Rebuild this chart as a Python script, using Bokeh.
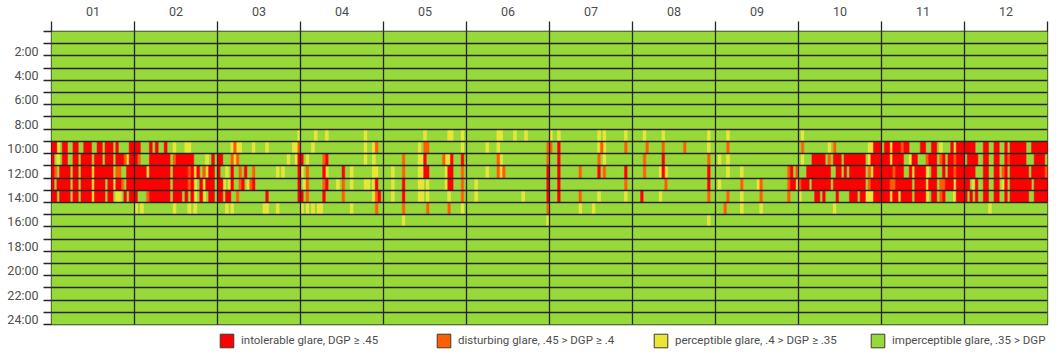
import re
from bokeh.plotting import figure
from bokeh.layouts import column
from bokeh.models import (ColumnDataSource, Range1d, FixedTicker, CustomJSTickFormatter,
                          Legend, LegendItem)
from bokeh.embed import file_html
from bokeh.resources import INLINE

# ---------------- data ----------------
months = ["01", "02", "03", "04", "05", "06", "07", "08", "09", "10", "11", "12"]
month_days = [31, 28, 31, 30, 31, 30, 31, 31, 30, 31, 30, 31]
hour_label_values = [2, 4, 6, 8, 10, 12, 14, 16, 18, 20, 22, 24]
hour_labels = ["2:00", "4:00", "6:00", "8:00", "10:00", "12:00", "14:00",
               "16:00", "18:00", "20:00", "22:00", "24:00"]

categories = ["intolerable glare, DGP \u2265 .45",
              "disturbing glare, .45 > DGP \u2265 .4",
              "perceptible glare, .4 > DGP \u2265 .35",
              "imperceptible glare, .35 > DGP"]
category_codes = ["r", "o", "y", "."]
category_colors = ["#ff0000", "#ff5f00", "#e9e634", "#98d93a"]

# glare class per day, one string per month (digits = that many imperceptible days)
glare_08 = ["", "", "30y", "5y3y13y", "15y8yy3y", "11yy4y3y",
            "y2y14y1y7y", "4y6y16y", "4y", "1y", "", ""]
glare_09 = ["rry1rr2rr2rrr2rr1rrr1r4rr", "rr3r1r2r2y3yy", "5yoyy4y4y9yyo", "4y18y2yo",
            "13y1oo12y", "7y3y17o", "o2r14yoy7o", "5o5o7o8y", "4o",
            "1o9y1o12yyrrr", "1rryrrrorr4rr2rr1y3ryrrr", "rrrr3rr2rr2r1rrrrrr2rrrrrr"]
glare_10 = ["r1y1rr2rr1rrrr1rrr1rrr1rrroyrr", "ro3rrrrrrr1orrrrrr4y1r", "rr3oyo18y2yr",
            "r1y5or13y2y", "7o5yyr6oyyr3r", "11oy16o", "3r14o1y", "4o6r16o", "1y2y",
            "1y3rrrrr1o1rrr1rrrrrrrr1yrrrr", "rrryrrrr2yrr3orrr1or1rrorrr",
            "1rrrr2rr2rr2rorrrrrr3rrrr"]
glare_11 = ["ro1rrrr1rr1rrrryrrrrrrr1oo2rrr", "rrrryrrrrrrr1rrrrroryr1oyrr",
            "r2y1r2o1r2o8y1y5r", "y1o5ry5r2y7yy", "3y3o5yyrr6yrr3o", "7y3oyo15r",
            "3r7o6r1o7r", "4o5yry15r", "4y4y16or1o", "3rrrrrrrrr2rr1r1rrrrrr1oyrrr",
            "rrrrorrr2ryrrrry1rr2r1rrorrr", "rrrr3rr2rr1or1rrrrrrr1rrrrro"]
glare_12 = ["r1rrrrr1rr1rrrryrrrr1rryrro1rrr", "rrrrrrrrrrrr1rrrrrory1ryrrr",
            "rry1yr2or1yor16r", "1yo5or3y1o2y4yy1yr", "3y3r5yy1y6yrr3o", "3y25r",
            "3r24o", "12o15r", "1y7o5yo9orry", "orrr1rrrrrrr1rrrrrrrrrrrr1orrrr",
            "rrroorrrrrr1rrrryrrr1oorrryrrr", "rr1yr2rr2rr1yr1rrrrrrrr1rrrrr"]
glare_13 = ["rr1rrrr1rr1rrrryrrrr1rr1yy1r1rr", "r3orrrrrrr1rrr1r1ry1ry1rr",
            "rr1rr2o10r11r", "r1o5r6o10yor", "3y3r5yy1y7y4o", "3y16y8r", "3r7o6y9y",
            "3r6y17o", "4o4y6o9o", "y5rr1r4r4rrr1rryyyrrr", "rrryrryrrrr1rrrry1rr1or3yrrr",
            "r1r1r2rr2rr2r1rrrrrrr2rrrrr"]
glare_14 = ["", "y1y10y4y1y", "3y1y11yy3y", "y1y1y1yy10y8o", "7o8o7o4y", "29o",
            "11y4y", "", "3o5y6y", "13y", "", "9y"]
glare_15 = ["", "", "", "", "7y", "29y", "", "28y", "", "", "", ""]

glare_by_hour = {8: glare_08, 9: glare_09, 10: glare_10, 11: glare_11,
                 12: glare_12, 13: glare_13, 14: glare_14, 15: glare_15}


def expand(code, n):
    out = ""
    for num, ch in re.findall(r"(\d+)|([a-z.])", code):
        out += "." * int(num) if num else ch
    return out.ljust(n, ".")[:n]


# build runs of equal class per hour row (each month spans one x unit)
runs = {c: dict(left=[], right=[], top=[], bottom=[]) for c in category_codes}
for h in range(24):
    chunks = glare_by_hour.get(h, [""] * 12)
    cells = []
    for m, (chunk, n) in enumerate(zip(chunks, month_days)):
        s = expand(chunk, n)
        for k, ch in enumerate(s):
            cells.append((m + k / n, m + (k + 1) / n, ch))
    start, code, end = cells[0][0], cells[0][2], cells[0][1]
    for x0, x1, ch in cells[1:]:
        if ch != code:
            d = runs[code]
            d["left"].append(start); d["right"].append(end)
            d["top"].append(h); d["bottom"].append(h + 1)
            start, code = x0, ch
        end = x1
    d = runs[code]
    d["left"].append(start); d["right"].append(end)
    d["top"].append(h); d["bottom"].append(h + 1)

# ---------------- main figure ----------------
p = figure(width=1059, height=330, x_range=Range1d(0, 12), y_range=Range1d(24, 0),
           x_axis_location="above", output_backend="svg", toolbar_location=None,
           min_border_left=51, min_border_right=12, min_border_top=31, min_border_bottom=6)
p.background_fill_color = "white"
p.border_fill_color = "white"
p.outline_line_color = "#262626"
p.outline_line_width = 1.3

for code, color in reversed(list(zip(category_codes, category_colors))):
    p.quad(source=ColumnDataSource(runs[code]), left="left", right="right", top="top",
           bottom="bottom", fill_color=color, line_color=color, line_width=0.5)

# grid lines above the cells
p.xgrid.ticker = FixedTicker(ticks=list(range(1, 12)))
p.ygrid.ticker = FixedTicker(ticks=list(range(1, 24)))
for g in (p.xgrid[0], p.ygrid[0]):
    g.grid_line_color = "#262626"
    g.grid_line_width = 1.3
    g.level = "overlay"

text_color = "#4d4d4d"
xa = p.xaxis[0]
xa.ticker = FixedTicker(ticks=[m + 0.5 for m in range(12)], minor_ticks=list(range(13)))
xa.formatter = CustomJSTickFormatter(args=dict(labels=months), code="return labels[index]")
xa.axis_line_color = None
xa.major_tick_line_color = None
xa.major_tick_out = 10
xa.major_tick_in = 0
xa.minor_tick_out = 10
xa.minor_tick_in = 0
xa.minor_tick_line_color = "#262626"
xa.minor_tick_line_width = 1.3
xa.major_label_standoff = 6
xa.major_label_text_font = "Roboto"
xa.major_label_text_font_size = "12.5px"
xa.major_label_text_color = text_color

ya = p.yaxis[0]
ya.ticker = FixedTicker(ticks=[h - 0.4 for h in hour_label_values], minor_ticks=list(range(25)))
ya.formatter = CustomJSTickFormatter(args=dict(labels=hour_labels), code="return labels[index]")
ya.axis_line_color = None
ya.major_tick_line_color = None
ya.major_tick_out = 8
ya.major_tick_in = 0
ya.minor_tick_out = 8
ya.minor_tick_in = 0
ya.minor_tick_line_color = "#262626"
ya.minor_tick_line_width = 1.3
ya.major_label_standoff = 5
ya.major_label_text_font = "Roboto"
ya.major_label_text_font_size = "12.5px"
ya.major_label_text_color = text_color

# ---------------- legend strip ----------------
leg = figure(width=1059, height=27, x_range=Range1d(0, 4), y_range=Range1d(0, 1),
             x_axis_location=None, y_axis_location=None, output_backend="svg",
             toolbar_location=None, min_border=0)
leg.outline_line_color = None
leg.grid.visible = False
leg.background_fill_color = "white"
leg.border_fill_color = "white"

items = []
for i, (cat, color) in enumerate(zip(categories, category_colors)):
    # hidden swatch renderer, only used to draw the legend glyph
    r = leg.quad(left=[i], right=[i + 1], top=[1], bottom=[0], fill_color=color,
                 line_color="#3a3a3a", line_width=1, visible=False)
    items.append(LegendItem(label=cat, renderers=[r]))

legend = Legend(items=items, orientation="horizontal", location=(167, 8.5),
                glyph_width=17, glyph_height=17, label_standoff=6, label_width=174,
                label_height=17, spacing=20, padding=0, margin=0,
                border_line_color=None, background_fill_alpha=0,
                label_text_font="Roboto", label_text_font_size="11.5px",
                label_text_color=text_color)
leg.add_layout(legend)

layout = column(p, leg, spacing=0)
open("out.html", "w").write(file_html(layout, INLINE))
